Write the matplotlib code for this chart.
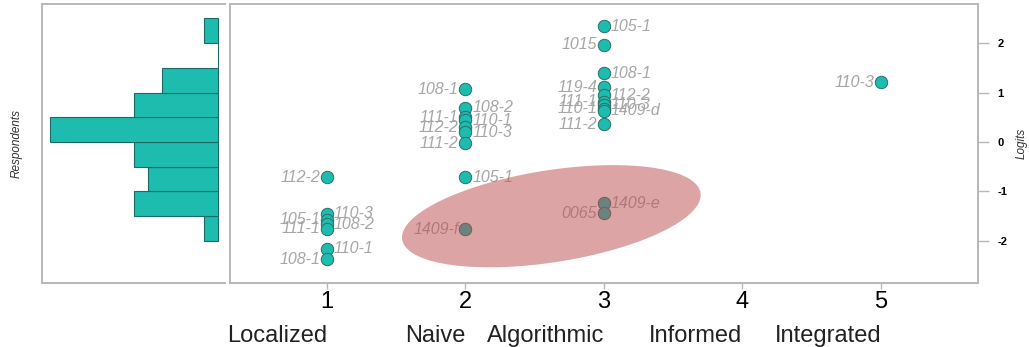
import numpy as np
import matplotlib
matplotlib.use("Agg")
import matplotlib.pyplot as plt

plt.rcParams['font.family'] = ['Liberation Sans', 'DejaVu Sans']
plt.rcParams['axes.unicode_minus'] = False

# person / item map data
x1_names = ['112-2', '110-3', '105-1', '108-2', '111-1', '110-1', '108-1']
x1_logits = [-0.71, -1.45, -1.57, -1.66, -1.75, -2.16, -2.37]
x1_side = ['L', 'R', 'L', 'R', 'L', 'R', 'L']

x2_names = ['108-1', '108-2', '111-1', '110-1', '112-2', '110-3', '111-2', '105-1', '1409-f']
x2_logits = [1.07, 0.69, 0.50, 0.44, 0.30, 0.20, -0.02, -0.71, -1.76]
x2_side = ['L', 'R', 'L', 'R', 'L', 'R', 'L', 'R', 'L']

x3_names = ['105-1', '1015', '108-1', '119-4', '112-2', '111-1', '110-3', '110-1', '1409-d', '111-2', '1409-e', '0065']
x3_logits = [2.34, 1.97, 1.39, 1.11, 0.95, 0.81, 0.75, 0.67, 0.63, 0.36, -1.24, -1.44]
x3_side = ['R', 'L', 'R', 'L', 'R', 'L', 'R', 'L', 'R', 'L', 'R', 'L']

x5_names = ['110-3']
x5_logits = [1.21]
x5_side = ['L']

levels = [1, 2, 3, 4, 5]
level_names = ['Localized', 'Naive', 'Algorithmic', 'Informed', 'Integrated']

# respondent histogram
bin_lo = [-2.0, -1.5, -1.0, -0.5, 0.0, 0.5, 1.0, 1.5, 2.0]
counts = [1, 6, 5, 6, 12, 6, 4, 0, 1]

teal = '#1ebbaf'
frame = '#b8b8b8'
lab_gray = '#a6a6a6'

fig = plt.figure(figsize=(10.29, 3.47), dpi=100)
ax_h = fig.add_axes([0.0408, 0.1844, 0.178, 0.8041])
ax = fig.add_axes([0.2235, 0.1844, 0.7269, 0.8041])

ylim = (-2.85, 2.79)

# histogram
ax_h.barh(bin_lo, counts, height=0.5, align='edge', color=teal,
          edgecolor='#1d6a64', linewidth=0.8)
ax_h.set_ylim(*ylim)
ax_h.set_xlim(12.57, -0.5)
ax_h.set_xticks([])
ax_h.set_yticks([])
for s in ['left', 'top', 'bottom']:
    ax_h.spines[s].set_color(frame)
    ax_h.spines[s].set_linewidth(1.4)
ax_h.spines['right'].set_visible(False)
ax_h.set_ylabel('Respondents', fontsize=8.5, style='italic', color='#333333', labelpad=14)

# scatter points with labels
groups = [(1, x1_names, x1_logits, x1_side),
          (2, x2_names, x2_logits, x2_side),
          (3, x3_names, x3_logits, x3_side),
          (5, x5_names, x5_logits, x5_side)]
for lvl, names, vals, sides in groups:
    ax.scatter([lvl] * len(vals), vals, s=80, color=teal, edgecolor='#2b6e68',
               linewidth=0.7, zorder=3)
    for n, v, sd in zip(names, vals, sides):
        if sd == 'L':
            ax.annotate(n, (lvl, v), xytext=(-5, 0), textcoords='offset points',
                        ha='right', va='center', fontsize=11.5, style='italic',
                        color=lab_gray, zorder=4)
        else:
            ax.annotate(n, (lvl, v), xytext=(5, 0), textcoords='offset points',
                        ha='left', va='center', fontsize=11.5, style='italic',
                        color=lab_gray, zorder=4)

ax.set_xlim(0.3, 5.7)
ax.set_ylim(*ylim)

# highlight ellipse (semi axes in pixels, tilted)
W = fig.get_figwidth() * fig.dpi * 0.7269
H = fig.get_figheight() * fig.dpi * 0.8041
sx = W / (5.7 - 0.3)
sy = H / (ylim[1] - ylim[0])
cx, cy = 2.62, -1.50
a_px, b_px, ang = 151, 46, np.deg2rad(8.9)
t = np.linspace(0, 2 * np.pi, 200)
ex = cx + (a_px * np.cos(t) * np.cos(ang) - b_px * np.sin(t) * np.sin(ang)) / sx
ey = cy + (a_px * np.cos(t) * np.sin(ang) + b_px * np.sin(t) * np.cos(ang)) / sy
ax.fill(ex, ey, color='#bb4b4b', alpha=0.5, lw=0, zorder=5)

# axes styling
for s in ax.spines.values():
    s.set_color(frame)
    s.set_linewidth(1.4)
ax.yaxis.tick_right()
ax.yaxis.set_label_position('right')
ax.set_yticks([-2, -1, 0, 1, 2])
ax.tick_params(axis='y', length=8, width=1, color=frame, labelsize=8, pad=6)
for lb in ax.get_yticklabels():
    lb.set_fontweight('bold')
ax.set_ylabel('Logits', fontsize=8.5, style='italic', color='#333333', labelpad=6)

ax.set_xticks(levels)
ax.set_xticklabels([str(l) for l in levels], fontsize=17)
ax.tick_params(axis='x', length=4, width=1, color=frame, pad=2)

for l, name in zip(levels, level_names):
    ax.text(l, -0.15, name, transform=ax.get_xaxis_transform(), ha='right', va='top',
            fontsize=17, color='#222222')

fig.savefig('out.png', dpi=100)
